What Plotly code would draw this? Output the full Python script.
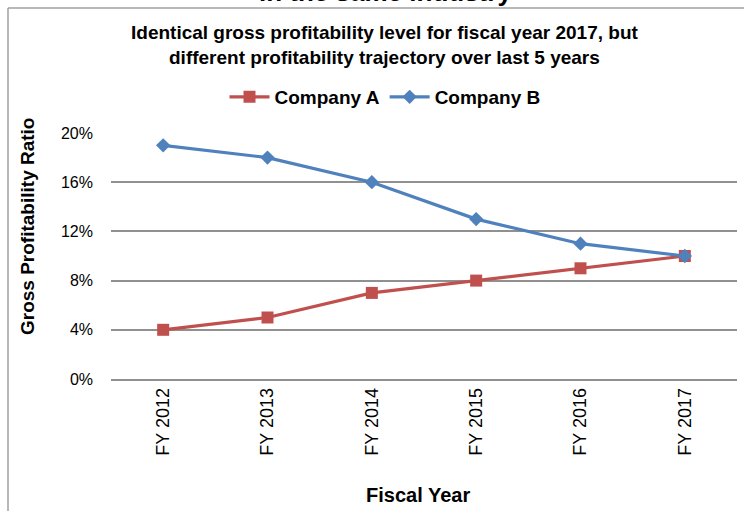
import plotly.graph_objects as go

years = ["FY 2012", "FY 2013", "FY 2014", "FY 2015", "FY 2016", "FY 2017"]
company_a = [0.04, 0.05, 0.07, 0.08, 0.09, 0.10]
company_b = [0.19, 0.18, 0.16, 0.13, 0.11, 0.10]
y_ticks = [0, 0.04, 0.08, 0.12, 0.16, 0.20]

RED = "#C0504D"
BLUE = "#4F81BD"
GRID = "#909090"
FONT = "Liberation Sans, Arial, sans-serif"

W, H = 744, 511
ML, MR, MT, MB = 111, 7, 133, 132
PW = W - ML - MR
PH = H - MT - MB


def px(x):
    return (x - ML) / PW


def py(y):
    return (H - MB - y) / PH


fig = go.Figure()
fig.add_trace(go.Scatter(
    x=years, y=company_a, name="Company A", mode="lines+markers",
    line=dict(color=RED, width=3.2),
    marker=dict(symbol="square", size=12, color=RED),
))
fig.add_trace(go.Scatter(
    x=years, y=company_b, name="Company B", mode="lines+markers",
    line=dict(color=BLUE, width=3.2),
    marker=dict(symbol="diamond", size=11, color=BLUE),
))

fig.update_layout(
    width=W, height=H,
    margin=dict(l=ML, r=MR, t=MT, b=MB, pad=0),
    paper_bgcolor="white", plot_bgcolor="white",
    font=dict(family=FONT, color="#000000"),
    showlegend=True,
    legend=dict(
        orientation="h", x=px(385), xanchor="center", y=py(97), yanchor="middle",
        font=dict(family=FONT, size=19, color="#000000", weight="bold"),
        itemwidth=40, bgcolor="rgba(0,0,0,0)",
    ),
    xaxis=dict(
        type="category", range=[-0.5, 5.5],
        showgrid=False, zeroline=False,
        showline=True, linecolor=GRID, linewidth=1.5,
        ticks="", tickangle=-90,
        tickfont=dict(family=FONT, size=18, color="#000000"),
    ),
    yaxis=dict(
        range=[0, 0.2], tickvals=y_ticks, tickformat=".0%",
        showgrid=True, gridcolor=GRID, gridwidth=1.5,
        zeroline=False, showline=False, ticks="",
        ticklabelstandoff=17,
        tickfont=dict(family=FONT, size=16, color="#000000"),
    ),
    annotations=[
        dict(text="in the same industry", x=px(385), y=py(-8), xref="paper", yref="paper",
             xanchor="center", yanchor="middle", showarrow=False,
             font=dict(family=FONT, size=26, color="#000000", weight="bold")),
        dict(text="Identical gross profitability level for fiscal year 2017, but<br>different profitability trajectory over last 5 years",
             x=px(385), y=py(45), xref="paper", yref="paper",
             xanchor="center", yanchor="middle", showarrow=False,
             font=dict(family=FONT, size=19, color="#000000", weight="bold")),
        dict(text="Gross Profitability Ratio", x=px(27), y=py(227), xref="paper", yref="paper",
             xanchor="center", yanchor="middle", showarrow=False, textangle=-90,
             font=dict(family=FONT, size=19, color="#000000", weight="bold")),
        dict(text="Fiscal Year", x=px(418), y=py(495), xref="paper", yref="paper",
             xanchor="center", yanchor="middle", showarrow=False,
             font=dict(family=FONT, size=20, color="#000000", weight="bold")),
    ],
    shapes=[
        dict(type="line", xref="paper", yref="paper",
             x0=px(8), x1=px(8), y0=py(8), y1=py(520),
             line=dict(color="#A0A0A0", width=1.5)),
        dict(type="line", xref="paper", yref="paper",
             x0=px(8), x1=px(760), y0=py(8), y1=py(8),
             line=dict(color="#A0A0A0", width=1.5)),
    ],
)

fig.write_html("out.html")
